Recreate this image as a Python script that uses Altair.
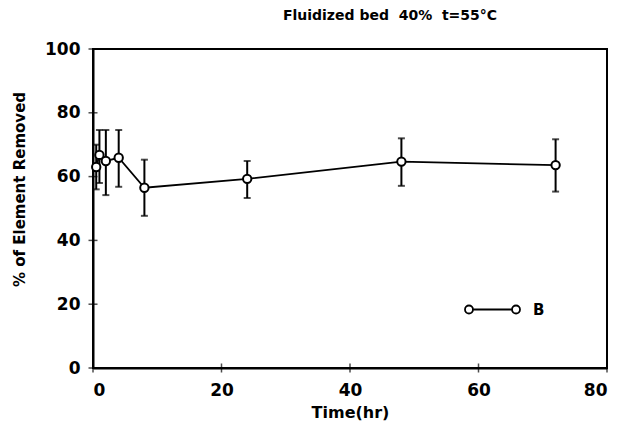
import altair as alt
import pandas as pd

# Removal of element B over time (fluidized bed, 40%, 55 °C)
hours = [0.5, 1, 2, 4, 8, 24, 48, 72]
removed = [63.0, 66.8, 64.9, 65.9, 56.5, 59.3, 64.7, 63.6]
err_upper = [70.0, 74.6, 74.6, 74.6, 65.3, 64.9, 72.0, 71.7]
err_lower = [56.0, 58.0, 54.2, 56.8, 47.7, 53.3, 57.1, 55.3]
series = ["B"] * len(hours)

x_ticks = [0, 20, 40, 60, 80]
y_ticks = [0, 20, 40, 60, 80, 100]

df = pd.DataFrame({
    "hours": hours,
    "removed": removed,
    "upper": err_upper,
    "lower": err_lower,
    "series": series,
})

FONT = "DejaVu Sans"
INK = "black"

# legend glyph: open circle - line - open circle
LEGEND_PATH = (
    "M -1 0 A 0.145 0.145 0 1 1 -0.71 0 A 0.145 0.145 0 1 1 -1 0 Z "
    "M -0.71 0 L 0.71 0 "
    "M 0.71 0 A 0.145 0.145 0 1 1 1 0 A 0.145 0.145 0 1 1 0.71 0 Z"
)

x_scale = alt.Scale(domain=[0, 80], nice=False)
y_scale = alt.Scale(domain=[0, 100], nice=False)

x_enc = alt.X(
    "hours:Q",
    scale=x_scale,
    axis=alt.Axis(values=x_ticks, title="Time(hr)", format="d", ticks=False),
)
y_enc = alt.Y(
    "removed:Q",
    scale=y_scale,
    axis=alt.Axis(values=y_ticks, title="% of Element Removed", format="d",
                  titleY=140, ticks=False),
)

base = alt.Chart(df)

line = base.mark_line(color=INK, strokeWidth=1.8).encode(x=x_enc, y=y_enc)

bars = base.mark_rule(color=INK, strokeWidth=2).encode(
    x="hours:Q",
    y=alt.Y("lower:Q", scale=y_scale),
    y2="upper:Q",
)

cap_top = base.mark_tick(color=INK, orient="horizontal", size=7, thickness=2).encode(
    x="hours:Q", y=alt.Y("upper:Q", scale=y_scale)
)
cap_bot = base.mark_tick(color=INK, orient="horizontal", size=7, thickness=2).encode(
    x="hours:Q", y=alt.Y("lower:Q", scale=y_scale)
)

points = base.mark_point(
    shape="circle", size=70, fill="white", strokeWidth=2, opacity=1, fillOpacity=1
).encode(
    x="hours:Q",
    y=alt.Y("removed:Q", scale=y_scale),
    color=alt.Color(
        "series:N",
        scale=alt.Scale(domain=["B"], range=[INK]),
        legend=alt.Legend(
            title=None,
            orient="none",
            legendX=371,
            legendY=232,
            symbolType=LEGEND_PATH,
            symbolSize=3025,
            symbolStrokeWidth=1.8,
            symbolStrokeColor=INK,
            symbolFillColor="transparent",
            labelFont=FONT,
            labelFontSize=15,
            labelFontWeight="bold",
            labelColor=INK,
            labelOffset=12,
            padding=0,
        ),
    ),
)

# tick marks that straddle the axis lines
y_tick_df = pd.DataFrame({"value": y_ticks, "at": [x_ticks[0]] * len(y_ticks)})
x_tick_df = pd.DataFrame({"value": x_ticks, "at": [y_ticks[0]] * len(x_ticks)})

y_cross = alt.Chart(y_tick_df).mark_tick(
    color=INK, orient="horizontal", size=9, thickness=1.5
).encode(x=alt.X("at:Q", scale=x_scale), y=alt.Y("value:Q", scale=y_scale))

x_cross = alt.Chart(x_tick_df).mark_tick(
    color=INK, orient="vertical", size=9, thickness=1.5
).encode(x=alt.X("value:Q", scale=x_scale), y=alt.Y("at:Q", scale=y_scale))

chart = (
    alt.layer(line, bars, cap_top, cap_bot, points, y_cross, x_cross)
    .properties(
        width=514,
        height=319,
        autosize=alt.AutoSizeParams(type="none"),
        padding={"left": 93, "top": 49, "right": 10, "bottom": 69},
        title=alt.TitleParams(
            "Fluidized\u00a0bed\u00a0\u00a040%\u00a0\u00a0t=55°C",
            font=FONT,
            fontSize=14,
            fontWeight="bold",
            color=INK,
            anchor="middle",
            offset=17,
            dx=40,
        ),
    )
    .configure_view(stroke=INK, strokeWidth=2)
    .configure_axis(
        grid=False,
        domainColor=INK,
        domainWidth=2,
        labelFont=FONT,
        labelFontSize=17,
        labelFontWeight="bold",
        labelColor=INK,
        titleFont=FONT,
        titleFontWeight="bold",
        titleColor=INK,
    )
    .configure_axisX(labelPadding=14, titlePadding=6, titleFontSize=16)
    .configure_axisY(labelPadding=13, titlePadding=17, titleFontSize=15)
)

chart.save("out.html", embed_options={"renderer": "svg", "actions": False})
